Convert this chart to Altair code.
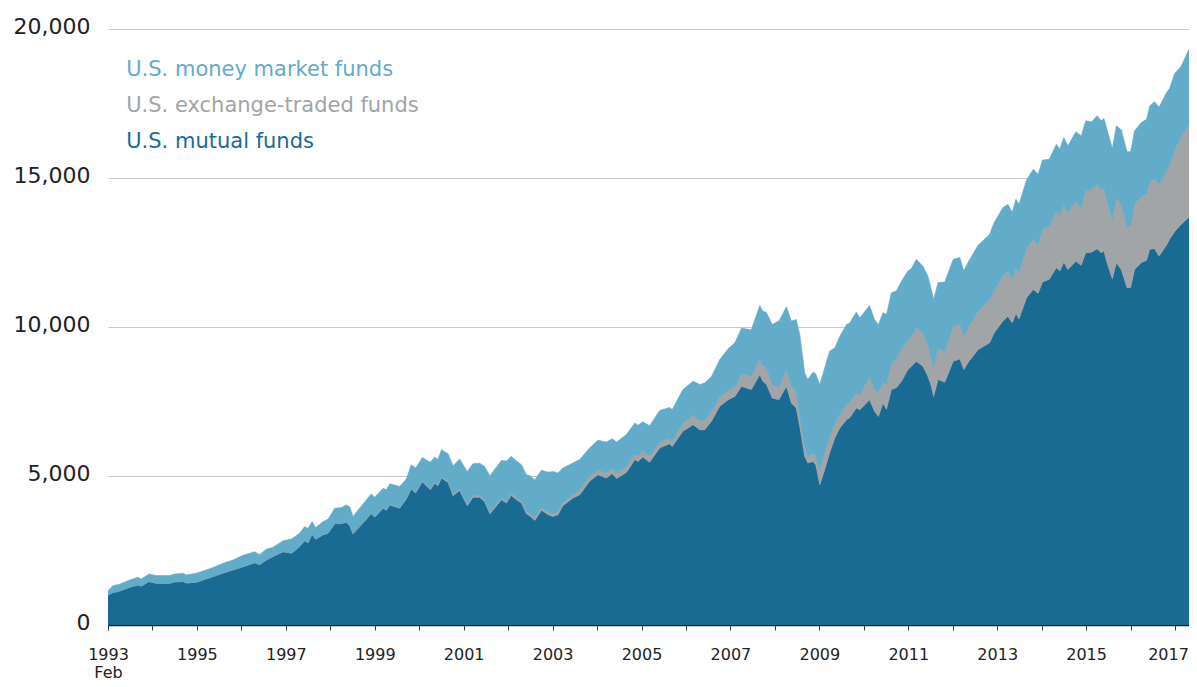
import altair as alt
import pandas as pd

# Time in decimal years (1993.00 = Feb 1993, first observation)
dates = [
    1993.00, 1993.11, 1993.26, 1993.49, 1993.67, 1993.75, 1993.92, 1994.09, 1994.39, 1994.50,
    1994.69, 1994.76, 1994.99, 1995.29, 1995.62, 1995.81, 1996.04, 1996.30, 1996.41, 1996.56,
    1996.71, 1996.94, 1997.13, 1997.31, 1997.42, 1997.50, 1997.59, 1997.67, 1997.84, 1997.95,
    1998.10, 1998.25, 1998.36, 1998.44, 1998.51, 1998.66, 1998.92, 1999.00, 1999.19, 1999.26,
    1999.34, 1999.56, 1999.71, 1999.82, 1999.92, 2000.07, 2000.25, 2000.35, 2000.42, 2000.50,
    2000.65, 2000.76, 2000.91, 2001.08, 2001.21, 2001.36, 2001.47, 2001.59, 2001.85, 2001.96,
    2002.07, 2002.19, 2002.30, 2002.41, 2002.49, 2002.60, 2002.75, 2002.90, 2003.01, 2003.12,
    2003.23, 2003.46, 2003.61, 2003.83, 2004.02, 2004.21, 2004.34, 2004.44, 2004.66, 2004.85,
    2004.92, 2005.03, 2005.18, 2005.41, 2005.63, 2005.69, 2005.93, 2006.16, 2006.31, 2006.42,
    2006.57, 2006.76, 2006.95, 2007.10, 2007.25, 2007.36, 2007.47, 2007.66, 2007.73, 2007.81,
    2007.94, 2008.09, 2008.26, 2008.37, 2008.48, 2008.56, 2008.67, 2008.74, 2008.86, 2008.92,
    2009.01, 2009.12, 2009.23, 2009.35, 2009.46, 2009.61, 2009.68, 2009.83, 2009.91, 2010.13,
    2010.24, 2010.33, 2010.43, 2010.51, 2010.62, 2010.73, 2010.85, 2010.99, 2011.07, 2011.18,
    2011.33, 2011.44, 2011.52, 2011.57, 2011.67, 2011.82, 2012.01, 2012.16, 2012.25, 2012.34,
    2012.57, 2012.83, 2012.93, 2013.13, 2013.24, 2013.34, 2013.42, 2013.49, 2013.66, 2013.81,
    2013.92, 2014.02, 2014.17, 2014.33, 2014.41, 2014.50, 2014.59, 2014.77, 2014.89, 2014.99,
    2015.12, 2015.25, 2015.34, 2015.40, 2015.47, 2015.59, 2015.68, 2015.79, 2015.92, 2016.00,
    2016.09, 2016.24, 2016.36, 2016.43, 2016.54, 2016.64, 2016.81, 2016.88, 2016.99, 2017.14,
    2017.29, 2017.44, 2017.49,
]

# Billions of US dollars
mutual_funds = [
    1010, 1090, 1140, 1270, 1340, 1310, 1460, 1400, 1400, 1450,
    1460, 1410, 1440, 1590, 1760, 1850, 1960, 2090, 2030, 2180,
    2300, 2460, 2410, 2630, 2830, 2760, 3050, 2880, 3030, 3080,
    3400, 3400, 3450, 3330, 3060, 3300, 3730, 3620, 3920, 3850,
    4030, 3920, 4230, 4560, 4430, 4810, 4540, 4760, 4670, 4930,
    4780, 4340, 4510, 4000, 4290, 4290, 4140, 3730, 4200, 4090,
    4350, 4200, 4090, 3730, 3660, 3510, 3850, 3700, 3640, 3700,
    4000, 4260, 4370, 4820, 5040, 4930, 5080, 4920, 5120, 5550,
    5490, 5640, 5460, 5940, 6080, 5990, 6500, 6720, 6550, 6550,
    6830, 7340, 7560, 7670, 8010, 7950, 7900, 8400, 8180, 8070,
    7620, 7560, 8010, 7450, 7280, 6650, 5660, 5440, 5490, 5370,
    4710, 5210, 5770, 6280, 6610, 6890, 6950, 7280, 7220, 7560,
    7170, 7000, 7450, 7240, 7900, 7960, 8180, 8570, 8680, 8850,
    8680, 8350, 8010, 7670, 8240, 8150, 8850, 8930, 8570, 8800,
    9240, 9470, 9800, 10200, 10360, 10140, 10450, 10270, 10980, 11260,
    11130, 11510, 11600, 11990, 11880, 12180, 11930, 12210, 12070, 12490,
    12510, 12630, 12490, 12550, 12160, 11620, 12160, 11930, 11320, 11320,
    11930, 12160, 12240, 12610, 12630, 12380, 12750, 12950, 13200, 13450,
    13650, 13870, 13930,
]

exchange_traded_funds = [
    0, 0, 0, 0, 0, 0, 0, 0, 0, 0,
    0, 0, 0, 0, 0, 0, 0, 0, 0, 0,
    0, 0, 5, 5, 5, 5, 5, 5, 5, 5,
    10, 10, 10, 10, 10, 10, 15, 15, 20, 20,
    20, 25, 30, 30, 30, 35, 40, 40, 40, 45,
    45, 50, 50, 55, 55, 60, 60, 60, 65, 65,
    70, 70, 75, 75, 80, 80, 85, 90, 95, 100,
    105, 120, 170, 170, 170, 170, 180, 180, 190, 190,
    190, 200, 200, 200, 190, 190, 270, 320, 320, 320,
    340, 300, 320, 320, 420, 450, 450, 550, 540, 560,
    450, 420, 560, 550, 540, 350, 330, 200, 280, 290,
    500, 560, 560, 500, 450, 500, 500, 510, 500, 790,
    730, 790, 700, 820, 900, 950, 1090, 1010, 1010, 1140,
    1120, 1060, 900, 990, 1060, 1040, 1180, 1190, 1120, 1170,
    1290, 1450, 1400, 1530, 1520, 1460, 1540, 1570, 1680, 1680,
    1640, 1770, 1790, 1900, 1870, 1940, 1910, 2020, 1940, 2080,
    2110, 2160, 2130, 2130, 2070, 1990, 2150, 2190, 2070, 2070,
    2190, 2210, 2210, 2270, 2330, 2410, 2490, 2500, 2740, 2940,
    3070, 3100, 3120,
]

money_market_funds = [
    140, 230, 230, 240, 260, 230, 250, 260, 260, 260,
    280, 270, 300, 300, 330, 330, 380, 370, 330, 360,
    310, 370, 475, 445, 465, 475, 415, 385, 435, 465,
    510, 530, 570, 620, 570, 610, 655, 655, 650, 670,
    690, 705, 640, 790, 810, 775, 880, 840, 840, 905,
    925, 950, 1010, 1095, 1065, 1080, 1120, 1220, 1255, 1345,
    1240, 1230, 1215, 1235, 1270, 1280, 1255, 1340, 1415, 1300,
    1165, 1060, 1010, 950, 990, 1040, 990, 1040, 1080, 1040,
    1020, 980, 1030, 1060, 1030, 1050, 1130, 1140, 1200, 1250,
    1160, 1270, 1390, 1480, 1540, 1530, 1560, 1770, 1810, 1860,
    2010, 2220, 2110, 2200, 2430, 2750, 2470, 2600, 2720, 2760,
    2860, 2860, 2860, 2520, 2630, 2690, 2680, 2710, 2590, 2370,
    2350, 2290, 2330, 2360, 2350, 2300, 2270, 2300, 2270, 2280,
    2240, 2300, 2350, 2260, 2190, 2320, 2240, 2210, 2190, 2190,
    2210, 2190, 2300, 2280, 2240, 2240, 2300, 2280, 2270, 2350,
    2360, 2320, 2240, 2240, 2220, 2240, 2240, 2320, 2400, 2350,
    2260, 2300, 2300, 2320, 2410, 2380, 2440, 2500, 2490, 2490,
    2460, 2490, 2520, 2540, 2600, 2580, 2630, 2560, 2570, 2360,
    2530, 2660, 2600,
]

series_names = ["U.S. mutual funds", "U.S. exchange-traded funds", "U.S. money market funds"]
series_colors = ["#1a6b94", "#a2a5a8", "#62abc9"]

# Legend (drawn as text, top to bottom)
legend_names = ["U.S. money market funds", "U.S. exchange-traded funds", "U.S. mutual funds"]
legend_t = [1993.41, 1993.41, 1993.41]
legend_y = [18620, 17400, 16210]

year_ticks = list(range(1993, 2018))
y_ticks = [0, 5000, 10000, 15000, 20000]

rows = []
for i, t in enumerate(dates):
    for k, vals in enumerate([mutual_funds, exchange_traded_funds, money_market_funds]):
        rows.append({"t": t, "series": series_names[k], "value": vals[i], "order": k})
df = pd.DataFrame(rows)

legend_df = pd.DataFrame({"series": legend_names, "t": legend_t, "y": legend_y})

FONT = "DejaVu Sans"

# visible window ends slightly before the last observation (page width limit)
x_scale = alt.Scale(domain=[1993, 2017.314], nice=False, zero=False)
y_scale = alt.Scale(domain=[0, 20000], nice=False)
color_scale = alt.Scale(domain=series_names, range=series_colors)

x_axis = alt.Axis(
    values=year_ticks,
    labelExpr="datum.value == 1993 ? ['1993', 'Feb'] : (datum.value % 2 == 1 ? '' + datum.value : '')",
    labelFontSize=16,
    labelFont=FONT,
    labelColor="#222222",
    labelPadding=16,
    labelLineHeight=18,
    labelOffset={"condition": {"test": "datum.value == 2017", "value": -7}, "value": 0},
    labelOverlap=False,
    labelFlush=False,
    tickSize=5,
    tickColor="#333333",
    domainColor="#222222",
    domainWidth=1.5,
    grid=False,
    title=None,
)

y_axis = alt.Axis(
    values=y_ticks,
    format=",.0f",
    labelFontSize=22,
    labelFont=FONT,
    labelColor="#222222",
    labelPadding=18,
    labelOffset=-3,
    domain=False,
    ticks=False,
    grid=True,
    gridColor="#c8c8c8",
    gridWidth=1,
    title=None,
)

area = alt.Chart(df).mark_area(interpolate="linear", strokeWidth=0.6, clip=True).encode(
    x=alt.X("t:Q", scale=x_scale, axis=x_axis),
    y=alt.Y("value:Q", stack="zero", scale=y_scale, axis=y_axis),
    color=alt.Color("series:N", scale=color_scale, legend=None),
    stroke=alt.Stroke("series:N", scale=color_scale, legend=None),
    order=alt.Order("order:Q", sort="ascending"),
)

legend_text = alt.Chart(legend_df).mark_text(
    align="left", baseline="middle", fontSize=21, font=FONT
).encode(
    x=alt.X("t:Q", scale=x_scale),
    y=alt.Y("y:Q", scale=y_scale),
    text="series:N",
    color=alt.Color("series:N", scale=color_scale, legend=None),
)

chart = alt.layer(area, legend_text).properties(
    width=1081,
    height=596,
    padding={"left": 100, "top": 21, "right": 0, "bottom": 57},
    autosize=alt.AutoSizeParams(type="none"),
    background="white",
).configure_view(stroke=None)

chart.save("out.html", embed_options={"renderer": "svg", "actions": False})
